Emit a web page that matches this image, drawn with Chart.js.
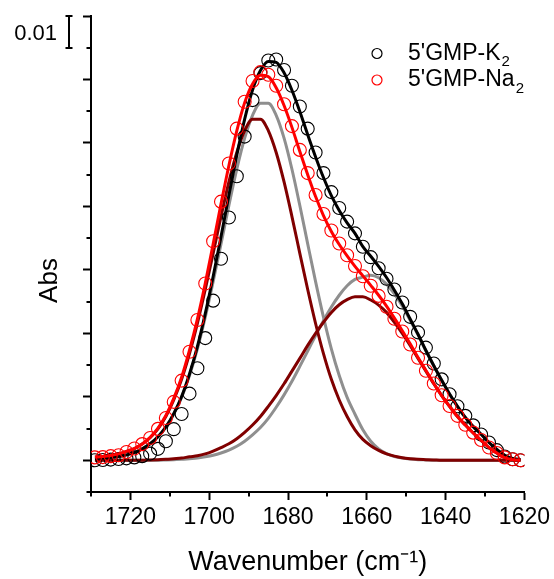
<!DOCTYPE html>
<html>
<head>
<meta charset="utf-8">
<title>5'GMP - ajuste da banda amida</title>
<script src="https://cdn.jsdelivr.net/npm/chart.js@4.4.1/dist/chart.umd.min.js"></script>
<style>
  body { margin: 0; background: #ffffff; }
  canvas { display: block; }
</style>
</head>
<body>
<canvas id="grafico" width="554" height="579"></canvas>
<script>
// Eixo x: numero de onda (cm-1), um ponto a cada 2 cm-1
const wavenumbers = [1729, 1727, 1725, 1723, 1721, 1719, 1717, 1715, 1713, 1711, 1709, 1707, 1705, 1703, 1701, 1699, 1697, 1695, 1693, 1691, 1689, 1687,
  1685, 1683, 1681, 1679, 1677, 1675, 1673, 1671, 1669, 1667, 1665, 1663, 1661, 1659, 1657, 1655, 1653, 1651, 1649, 1647, 1645, 1643, 1641, 1639, 1637, 1635, 1633, 1631, 1629, 1627, 1625, 1623, 1621];

// Dados medidos (circulos)
const k2Data = [0.0000, 0.0001, 0.0002, 0.0004, 0.0006, 0.0009, 0.0013, 0.0021, 0.0036, 0.0060, 0.0098, 0.0146, 0.0210, 0.0290, 0.0385, 0.0503, 0.0635, 0.0765, 0.0895, 0.1020, 0.1135, 0.1220,
  0.1260, 0.1263, 0.1230, 0.1180, 0.1115, 0.1045, 0.0970, 0.0905, 0.0845, 0.0795, 0.0752, 0.0715, 0.0673, 0.0640, 0.0605, 0.0572, 0.0538, 0.0497, 0.0452, 0.0403, 0.0355, 0.0305, 0.0255, 0.0208, 0.0170, 0.0140, 0.0110, 0.0081, 0.0056, 0.0032, 0.0012, 0.0003, 0.0000];
const na2Data = [0.0009, 0.0010, 0.0013, 0.0016, 0.0026, 0.0037, 0.0051, 0.0070, 0.0099, 0.0133, 0.0184, 0.0251, 0.0342, 0.0442, 0.0557, 0.0690, 0.0815, 0.0935, 0.1045, 0.1130, 0.1195, 0.1223,
  0.1215, 0.1180, 0.1122, 0.1053, 0.0978, 0.0905, 0.0836, 0.0776, 0.0724, 0.0683, 0.0646, 0.0612, 0.0580, 0.0550, 0.0518, 0.0484, 0.0446, 0.0406, 0.0365, 0.0323, 0.0282, 0.0242, 0.0205, 0.0171, 0.0140, 0.0112, 0.0087, 0.0064, 0.0040, 0.0023, 0.0009, 0.0003, 0.0000];

// Curvas ajustadas (soma das bandas)
const k2Fit = [0.0005, 0.0007, 0.0009, 0.0012, 0.0017, 0.0024, 0.0036, 0.0052, 0.0074, 0.0105, 0.0147, 0.0201, 0.0272, 0.0358, 0.0462, 0.0579, 0.0705, 0.0835, 0.0961, 0.1075, 0.1167, 0.1228,
  0.1257, 0.1254, 0.1221, 0.1166, 0.1099, 0.1026, 0.0956, 0.0891, 0.0834, 0.0787, 0.0748, 0.0715, 0.0673, 0.0643, 0.0611, 0.0576, 0.0536, 0.0493, 0.0445, 0.0397, 0.0346, 0.0298, 0.0252, 0.0209, 0.0170, 0.0135, 0.0106, 0.0082, 0.0056, 0.0034, 0.0016, 0.0006, 0.0002];
const na2Fit = [0.0010, 0.0012, 0.0015, 0.0020, 0.0028, 0.0037, 0.0051, 0.0072, 0.0101, 0.0141, 0.0195, 0.0262, 0.0347, 0.0445, 0.0558, 0.0681, 0.0808, 0.0929, 0.1038, 0.1127, 0.1186, 0.1213,
  0.1209, 0.1174, 0.1118, 0.1049, 0.0973, 0.0900, 0.0831, 0.0771, 0.0721, 0.0680, 0.0644, 0.0611, 0.0581, 0.0551, 0.0520, 0.0486, 0.0448, 0.0408, 0.0367, 0.0324, 0.0283, 0.0242, 0.0204, 0.0170, 0.0138, 0.0111, 0.0086, 0.0063, 0.0040, 0.0023, 0.0008, 0.0002, 0.0000];

// Bandas componentes
const k2Band1 = [0.0005, 0.0007, 0.0009, 0.0012, 0.0017, 0.0024, 0.0036, 0.0052, 0.0074, 0.0104, 0.0145, 0.0198, 0.0267, 0.0351, 0.0451, 0.0563, 0.0682, 0.0803, 0.0917, 0.1015, 0.1087, 0.1125,
  0.1125, 0.1087, 0.1015, 0.0917, 0.0803, 0.0682, 0.0563, 0.0451, 0.0351, 0.0267, 0.0198, 0.0145, 0.0096, 0.0060, 0.0036, 0.0021, 0.0012, 0.0007, 0.0004, 0.0002, 0.0001, 0, 0, 0, 0, 0, 0, 0, 0, 0, 0, 0, 0];
const k2Band2 = [0, 0, 0, 0, 0, 0, 0, 0, 0, 0.0001, 0.0002, 0.0003, 0.0005, 0.0007, 0.0011, 0.0016, 0.0023, 0.0032, 0.0044, 0.0060, 0.0080, 0.0103,
  0.0132, 0.0167, 0.0206, 0.0249, 0.0296, 0.0344, 0.0393, 0.0440, 0.0483, 0.0520, 0.0550, 0.0570, 0.0577, 0.0583, 0.0575, 0.0555, 0.0524, 0.0486, 0.0441, 0.0395, 0.0345, 0.0298, 0.0252, 0.0209, 0.0170, 0.0135, 0.0106, 0.0082, 0.0056, 0.0034, 0.0016, 0.0006, 0.0002];
const na2Band1 = [0.0010, 0.0012, 0.0015, 0.0020, 0.0028, 0.0037, 0.0051, 0.0071, 0.0099, 0.0138, 0.0190, 0.0255, 0.0336, 0.0431, 0.0538, 0.0652, 0.0768, 0.0877, 0.0970, 0.1039, 0.1075, 0.1075,
  0.1039, 0.0970, 0.0877, 0.0768, 0.0652, 0.0538, 0.0431, 0.0336, 0.0255, 0.0190, 0.0138, 0.0096, 0.0066, 0.0046, 0.0031, 0.0020, 0.0013, 0.0008, 0.0005, 0.0003, 0.0002, 0.0001, 0, 0, 0, 0, 0, 0, 0, 0, 0, 0, 0];
const na2Band2 = [0, 0, 0, 0, 0, 0, 0, 0.0001, 0.0002, 0.0003, 0.0005, 0.0007, 0.0011, 0.0014, 0.0020, 0.0029, 0.0040, 0.0052, 0.0068, 0.0088, 0.0111, 0.0138,
  0.0170, 0.0204, 0.0241, 0.0281, 0.0321, 0.0362, 0.0400, 0.0435, 0.0466, 0.0490, 0.0506, 0.0515, 0.0515, 0.0505, 0.0489, 0.0466, 0.0435, 0.0400, 0.0362, 0.0321, 0.0281, 0.0241, 0.0204, 0.0170, 0.0138, 0.0111, 0.0086, 0.0063, 0.0040, 0.0023, 0.0008, 0.0002, 0.0000];

// Marcas dos eixos
const xMajorTicks = [1720, 1700, 1680, 1660, 1640, 1620];
const xMinorTicks = [1730, 1710, 1690, 1670, 1650, 1630];
const yMajorTicks = [0, 0.02, 0.04, 0.06, 0.08, 0.10, 0.12, 0.14];
const yMinorTicks = [-0.01, 0.01, 0.03, 0.05, 0.07, 0.09, 0.11, 0.13];

const seriesNames = ["5'GMP-K", "5'GMP-Na"];
const seriesSubscripts = ['2', '2'];
const seriesColors = ['#000000', '#ff0000'];
const scaleBar = [0.13, 0.14]; // barra de 0.01 Abs

function pontos(ys) {
  return wavenumbers.map((x, i) => ({ x: x, y: ys[i] }));
}

function linha(label, ys, cor) {
  return {
    label: label,
    data: pontos(ys),
    showLine: true,
    borderColor: cor,
    borderWidth: 3,
    pointRadius: 0,
    cubicInterpolationMode: 'monotone',
    fill: false
  };
}

function circulos(label, ys, cor) {
  return {
    label: label,
    data: pontos(ys),
    showLine: false,
    pointStyle: 'circle',
    pointRadius: 6.5,
    pointBorderWidth: 1.1,
    pointBorderColor: cor,
    pointBackgroundColor: 'rgba(0,0,0,0)'
  };
}

// Plugin: marcas menores, barra de escala, legenda e titulo do eixo y
const extras = {
  id: 'extras',
  afterDraw(chart) {
    const ctx = chart.ctx;
    const x = chart.scales.x;
    const y = chart.scales.y;
    ctx.save();
    ctx.strokeStyle = '#000';
    ctx.lineWidth = 2;

    // marcas menores
    ctx.beginPath();
    xMinorTicks.forEach(v => {
      const px = Math.round(x.getPixelForValue(v));
      ctx.moveTo(px, x.top);
      ctx.lineTo(px, x.top + 4.5);
    });
    yMinorTicks.forEach(v => {
      const py = Math.round(y.getPixelForValue(v));
      ctx.moveTo(y.right - 4.5, py);
      ctx.lineTo(y.right, py);
    });
    ctx.stroke();

    // barra de escala 0.01
    const y0 = Math.round(y.getPixelForValue(scaleBar[0]));
    const y1 = Math.round(y.getPixelForValue(scaleBar[1]));
    const bx = 69;
    ctx.beginPath();
    ctx.moveTo(bx, y0); ctx.lineTo(bx, y1);
    ctx.moveTo(bx - 3.5, y0); ctx.lineTo(bx + 3.5, y0);
    ctx.moveTo(bx - 3.5, y1); ctx.lineTo(bx + 3.5, y1);
    ctx.stroke();
    ctx.fillStyle = '#000';
    ctx.font = '22px "Liberation Sans", Arial, sans-serif';
    ctx.textAlign = 'right';
    ctx.textBaseline = 'alphabetic';
    ctx.fillText((scaleBar[1] - scaleBar[0]).toFixed(2), 57, 39.5);

    // legenda
    seriesNames.forEach((nome, i) => {
      const ly = 53.5 + i * 26.5;
      ctx.beginPath();
      ctx.strokeStyle = seriesColors[i];
      ctx.lineWidth = 1.2;
      ctx.arc(377, ly, 5, 0, Math.PI * 2);
      ctx.stroke();
      ctx.fillStyle = '#000';
      ctx.textAlign = 'left';
      ctx.font = '23px "Liberation Sans", Arial, sans-serif';
      ctx.fillText(nome, 408, ly + 6);
      const w = ctx.measureText(nome).width;
      ctx.font = '15px "Liberation Sans", Arial, sans-serif';
      ctx.fillText(seriesSubscripts[i], 408 + w + 1, ly + 12.5);
    });

    // titulo do eixo y
    ctx.translate(56.5, 280.5);
    ctx.rotate(-Math.PI / 2);
    ctx.textAlign = 'center';
    ctx.font = '26px "Liberation Sans", Arial, sans-serif';
    ctx.fillText('Abs', 0, 0);
    ctx.restore();
  }
};

const ctx = document.getElementById('grafico').getContext('2d');

window.chart = new Chart(ctx, {
  type: 'scatter',
  data: {
    datasets: [
      linha("5'GMP-Na2 ajuste", na2Fit, '#ff0000'),
      circulos("5'GMP-Na2", na2Data, '#ff0000'),
      linha("5'GMP-K2 ajuste", k2Fit, '#000000'),
      circulos("5'GMP-K2", k2Data, '#000000'),
      linha('Na2 banda 1', na2Band1, '#800000'),
      linha('Na2 banda 2', na2Band2, '#800000'),
      linha('K2 banda 1', k2Band1, '#8f8f8f'),
      linha('K2 banda 2', k2Band2, '#8f8f8f')
    ]
  },
  options: {
    responsive: false,
    devicePixelRatio: 1,
    animation: false,
    layout: { padding: { top: 16, right: 28, left: 0, bottom: 0 } },
    plugins: {
      legend: { display: false },
      tooltip: { enabled: false }
    },
    scales: {
      x: {
        type: 'linear',
        reverse: true,
        min: 1620,
        max: 1730,
        afterBuildTicks: (s) => { s.ticks = xMajorTicks.map(v => ({ value: v })); },
        afterFit: (s) => { s.height = 87; },
        border: { display: true, color: '#000', width: 2 },
        grid: { drawOnChartArea: false, drawTicks: true, tickLength: 8, tickWidth: 2, tickColor: '#000' },
        ticks: {
          color: '#000',
          padding: 4,
          maxRotation: 0,
          callback: (v) => v.toString(),
          font: { family: '"Liberation Sans", Arial, sans-serif', size: 23 }
        },
        title: {
          display: true,
          text: 'Wavenumber (cm\u207B\u00B9)',
          color: '#000',
          padding: { top: 0, bottom: 0 },
          font: { family: '"Liberation Sans", Arial, sans-serif', size: 27 }
        }
      },
      y: {
        type: 'linear',
        min: -0.01,
        max: 0.14,
        afterBuildTicks: (s) => { s.ticks = yMajorTicks.map(v => ({ value: v })); },
        afterFit: (s) => { s.width = 91; },
        border: { display: true, color: '#000', width: 2 },
        grid: { drawOnChartArea: false, drawTicks: true, tickLength: 8, tickWidth: 2, tickColor: '#000' },
        ticks: { display: false }
      }
    }
  },
  plugins: [extras]
});
</script>
</body>
</html>
